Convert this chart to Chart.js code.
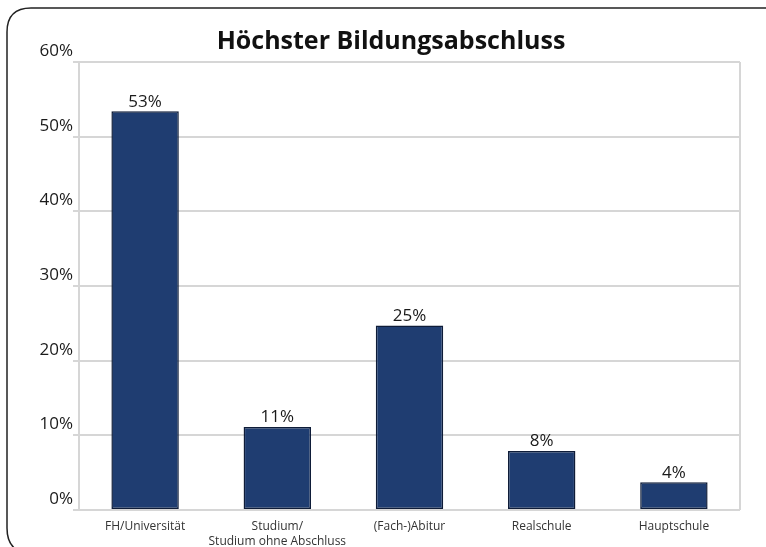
<!DOCTYPE html>
<html>
<head>
<meta charset="utf-8">
<script src="https://cdn.jsdelivr.net/npm/chart.js@4.4.0/dist/chart.umd.min.js"></script>
<style>
  html, body { margin: 0; padding: 0; background: #fff; }
  canvas { display: block; }
</style>
</head>
<body>
<canvas id="myChart" width="766" height="547"></canvas>
<script>
const chartTitle = 'Höchster Bildungsabschluss';
const categories = [
    'FH/Universität',
    ['Studium/', 'Studium ohne Abschluss'],
    '(Fach-)Abitur',
    'Realschule',
    'Hauptschule'
];
const shares = [53.4, 11.1, 24.7, 7.9, 3.7];
const shareLabels = ['53%', '11%', '25%', '8%', '4%'];

const gridColor = '#d6d6d6';

// percentage labels above the bars
const barLabelPlugin = {
    id: 'barLabels',
    afterDatasetsDraw(chart) {
        const ctx = chart.ctx;
        const bars = chart.getDatasetMeta(0).data;
        ctx.save();
        ctx.font = '17px "Open Sans", sans-serif';
        ctx.fillStyle = '#1a1a1a';
        ctx.textAlign = 'center';
        ctx.textBaseline = 'bottom';
        bars.forEach((bar, i) => {
            ctx.fillText(shareLabels[i], bar.x, bar.y - 1);
        });
        ctx.restore();
    }
};

// title, right border of the plot area + rounded frame round the chart
const framePlugin = {
    id: 'frame',
    afterDraw(chart) {
        const ctx = chart.ctx;
        const a = chart.chartArea;
        ctx.save();
        ctx.font = 'bold 25px "Open Sans", sans-serif';
        ctx.fillStyle = '#111';
        ctx.textAlign = 'center';
        ctx.textBaseline = 'middle';
        ctx.fillText(chartTitle, 391, 42);

        ctx.strokeStyle = gridColor;
        ctx.lineWidth = 2;
        ctx.beginPath();
        ctx.moveTo(a.right, a.top);
        ctx.lineTo(a.right, a.bottom);
        ctx.stroke();

        ctx.strokeStyle = '#222';
        ctx.lineWidth = 1.5;
        ctx.beginPath();
        ctx.moveTo(766, 8);
        ctx.lineTo(31, 8);
        ctx.quadraticCurveTo(7, 8, 7, 32);
        ctx.lineTo(7, 528);
        ctx.quadraticCurveTo(7, 544, 17, 550);
        ctx.stroke();
        ctx.restore();
    }
};

const config = {
    type: 'bar',
    data: {
        labels: categories,
        datasets: [{
            data: shares,
            backgroundColor: '#1f3d71',
            borderColor: '#0e1c38',
            borderWidth: 1.5,
            borderSkipped: false,
            barPercentage: 0.51,
            categoryPercentage: 1
        }]
    },
    options: {
        responsive: false,
        animation: false,
        layout: {
            padding: { left: 0, right: 26, top: 62, bottom: 0 }
        },
        scales: {
            x: {
                grid: { display: false },
                border: { display: false },
                ticks: {
                    color: '#333',
                    font: { family: '"Open Sans", sans-serif', size: 12, lineHeight: 1.25 },
                    padding: 1,
                    maxRotation: 0,
                    autoSkip: false
                },
                afterFit(scale) {
                    scale.height = 37;
                }
            },
            y: {
                min: 0,
                max: 60,
                grid: {
                    color: gridColor,
                    lineWidth: 2,
                    tickLength: 6
                },
                border: { color: gridColor, width: 2 },
                ticks: {
                    stepSize: 10,
                    padding: 0,
                    labelOffset: -11,
                    color: '#1a1a1a',
                    font: { family: '"Open Sans", sans-serif', size: 17 },
                    callback: function(value) {
                        return value + '%';
                    }
                },
                afterFit(scale) {
                    scale.width = 79;
                }
            }
        },
        plugins: {
            legend: { display: false },
            tooltip: { enabled: false },
            title: { display: false }
        }
    },
    plugins: [barLabelPlugin, framePlugin]
};

const myChart = document.getElementById('myChart');
const chart = new Chart(myChart, config);
</script>
</body>
</html>
